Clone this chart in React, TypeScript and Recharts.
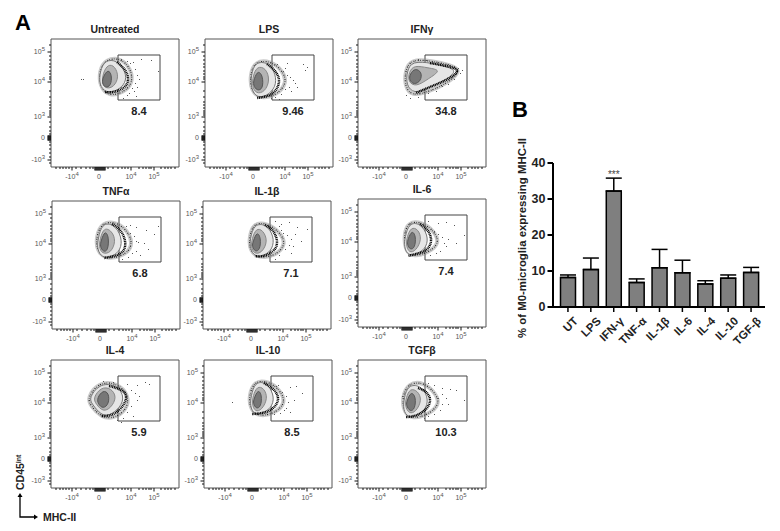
import {
  Bar,
  BarChart,
  ErrorBar,
  ReferenceArea,
  ReferenceDot,
  Scatter,
  ScatterChart,
  XAxis,
  YAxis,
} from 'recharts'

// Panel B: percent of M0-microglia expressing MHC-II
const treatments = ['UT', 'LPS', 'IFN-γ', 'TNF-α', 'IL-1β', 'IL-6', 'IL-4', 'IL-10', 'TGF-β']
const meanPercent = [8.2, 10.4, 32.2, 6.8, 10.9, 9.5, 6.4, 8.0, 9.6]
const upperError = [0.7, 3.2, 3.6, 1.0, 5.1, 3.5, 0.9, 0.9, 1.4]
const percentTicks = [0, 10, 20, 30, 40]

// Panel A: titles and gate percentages
const panelTitles = ['Untreated', 'LPS', 'IFNγ', 'TNFα', 'IL-1β', 'IL-6', 'IL-4', 'IL-10', 'TGFβ']
const gatePercents = ['8.4', '9.46', '34.8', '6.8', '7.1', '7.4', '5.9', '8.5', '10.3']

// Biexponential axes, in display channels (0-128)
const xMajor = [21, 48, 80, 103]
const xBases = ['-10', '0', '10', '10']
const xExps = ['4', '', '4', '5']
const xMinor = [5, 9, 12, 15, 18, 25, 30, 35, 39, 42, 44, 45, 46, 47, 49, 50, 51, 52, 53, 54, 57, 62, 67, 71, 74, 77, 88, 92, 95, 98, 100, 110, 114, 117, 120, 124]
const yMajor = [115, 85, 50, 29, 7]
const yBases = ['10', '10', '10', '0', '-10']
const yExps = ['5', '4', '3', '', '3']
const yMinor = [122, 111, 107, 103, 100, 96, 93, 90, 88, 76, 70, 65, 62, 59, 56, 54, 52, 45, 40, 36, 33, 31, 30, 28, 27, 25, 22, 18, 14, 10, 4]

type Pt = [number, number]

const halo1: Pt[] = [[48, 96], [55, 108], [70, 109], [80, 98], [82, 84], [72, 74], [58, 71], [49, 80]]
const arc1: Pt[] = [[66, 105], [74, 97], [77, 87], [72, 79], [62, 75], [54, 75]]
const body1: Pt[] = [[49, 96], [54, 107], [66, 107], [75, 95], [75, 84], [66, 76], [55, 74], [48, 82]]
const mid1: Pt[] = [[52, 94], [57, 103], [64, 101], [68, 90], [63, 80], [55, 78], [51, 84]]
const core1: Pt[] = [[52, 90], [57, 98], [61, 92], [60, 81], [54, 79], [51, 84]]
const dots1: Pt[] = [[30, 88], [32, 88], [70, 108], [76, 106], [82, 105], [90, 108], [100, 107], [107, 96], [84, 98], [86, 92], [88, 88], [84, 84], [81, 79], [83, 76], [78, 74], [76, 72], [72, 69], [86, 80], [79, 104], [85, 71]]

const halo2: Pt[] = [[45, 92], [50, 106], [66, 106], [78, 96], [82, 84], [72, 72], [56, 68], [46, 76]]
const arc2: Pt[] = [[62, 103], [70, 96], [74, 86], [70, 76], [62, 71], [52, 69]]
const body2: Pt[] = [[46, 92], [50, 105], [63, 105], [71, 93], [71, 80], [62, 71], [52, 69], [46, 78]]
const mid2: Pt[] = [[48, 91], [52, 101], [61, 99], [65, 87], [60, 75], [51, 73], [47, 81]]
const core2: Pt[] = [[49, 88], [53, 97], [58, 91], [58, 78], [52, 76], [48, 82]]
const dots2: Pt[] = [[72, 103], [82, 104], [98, 103], [102, 100], [100, 97], [78, 96], [82, 92], [85, 90], [88, 87], [90, 84], [84, 80], [80, 78], [86, 76], [76, 73], [70, 70], [74, 68], [66, 69], [92, 80], [80, 99]]

const halo3: Pt[] = [[47, 96], [53, 108], [74, 106], [92, 102], [104, 97], [90, 84], [70, 75], [54, 71], [47, 80]]
const arc3: Pt[] = [[72, 104], [88, 101], [99, 96], [88, 87], [72, 80], [58, 74]]
const body3: Pt[] = [[49, 96], [54, 106], [74, 104], [90, 100], [99, 96], [88, 87], [70, 79], [56, 73], [48, 82]]
const mid3: Pt[] = [[51, 95], [56, 102], [70, 99], [84, 97], [70, 88], [58, 80], [50, 85]]
const core3: Pt[] = [[52, 93], [57, 99], [64, 95], [63, 86], [56, 82], [51, 87]]
const dots3: Pt[] = [[60, 108], [68, 107], [80, 105], [90, 103], [96, 101], [100, 99], [104, 97], [102, 94], [96, 88], [90, 83], [84, 81], [78, 76], [70, 74], [60, 70], [52, 69], [48, 72]]

const halo4: Pt[] = [[44, 92], [50, 107], [66, 107], [79, 94], [80, 80], [68, 72], [54, 70], [45, 78]]
const arc4: Pt[] = [[60, 105], [68, 99], [73, 88], [71, 78], [62, 73], [52, 71]]
const body4: Pt[] = [[46, 90], [50, 106], [62, 105], [70, 92], [69, 79], [60, 72], [50, 71], [45, 80]]
const mid4: Pt[] = [[48, 90], [52, 102], [60, 98], [64, 88], [59, 76], [50, 75], [47, 82]]
const core4: Pt[] = [[49, 88], [53, 99], [57, 92], [56, 78], [51, 77], [48, 83]]
const dots4: Pt[] = [[72, 100], [78, 104], [84, 102], [94, 99], [106, 103], [102, 95], [78, 96], [82, 93], [86, 87], [92, 86], [96, 80], [84, 78], [80, 76], [76, 72], [70, 70], [88, 74], [74, 103], [84, 88]]

const halo5: Pt[] = [[46, 90], [50, 106], [64, 106], [78, 96], [83, 84], [72, 73], [56, 71], [47, 78]]
const arc5: Pt[] = [[62, 104], [70, 98], [74, 87], [70, 78], [60, 73], [52, 73]]
const body5: Pt[] = [[47, 90], [51, 105], [63, 105], [71, 93], [70, 80], [61, 73], [52, 72], [47, 80]]
const mid5: Pt[] = [[49, 90], [53, 101], [60, 99], [65, 88], [59, 76], [51, 75], [48, 82]]
const core5: Pt[] = [[50, 87], [54, 98], [58, 91], [57, 79], [52, 77], [49, 83]]
const dots5: Pt[] = [[72, 108], [78, 105], [86, 107], [94, 102], [104, 100], [76, 103], [80, 96], [84, 94], [88, 90], [90, 83], [86, 84], [82, 80], [88, 76], [76, 74], [72, 70], [92, 95], [98, 88], [78, 99]]

const halo6: Pt[] = [[46, 92], [50, 105], [64, 105], [76, 96], [82, 84], [70, 74], [54, 70], [47, 78]]
const arc6: Pt[] = [[62, 103], [70, 96], [73, 86], [68, 77], [58, 73], [50, 71]]
const body6: Pt[] = [[47, 90], [51, 104], [62, 104], [70, 92], [69, 80], [60, 73], [50, 71], [46, 80]]
const mid6: Pt[] = [[49, 90], [53, 100], [60, 98], [64, 88], [58, 76], [51, 74], [48, 82]]
const core6: Pt[] = [[50, 88], [54, 97], [58, 91], [57, 79], [52, 77], [49, 83]]
const dots6: Pt[] = [[70, 106], [80, 104], [88, 105], [96, 102], [106, 92], [76, 96], [80, 93], [84, 90], [86, 84], [88, 81], [82, 76], [78, 74], [72, 72], [90, 88], [98, 84]]

const halo7: Pt[] = [[36, 90], [48, 106], [66, 105], [78, 93], [76, 78], [62, 69], [50, 71], [40, 82]]
const arc7: Pt[] = [[58, 102], [68, 99], [75, 92], [70, 80], [60, 73], [50, 72]]
const body7: Pt[] = [[38, 90], [48, 104], [64, 104], [74, 92], [69, 80], [58, 72], [50, 73], [41, 84]]
const mid7: Pt[] = [[42, 90], [50, 101], [60, 100], [66, 91], [60, 80], [52, 76], [45, 84]]
const core7: Pt[] = [[46, 90], [52, 98], [58, 95], [58, 84], [52, 79], [47, 84]]
const dots7: Pt[] = [[76, 104], [86, 103], [94, 106], [98, 104], [80, 98], [84, 95], [86, 88], [80, 82], [76, 76], [72, 70], [66, 68], [82, 72], [70, 66], [88, 92], [62, 106], [52, 107]]

const halo8: Pt[] = [[45, 92], [50, 107], [64, 107], [76, 98], [82, 86], [72, 75], [54, 71], [46, 80]]
const arc8: Pt[] = [[60, 105], [69, 99], [74, 89], [68, 79], [58, 75], [48, 74]]
const body8: Pt[] = [[47, 92], [51, 106], [62, 106], [70, 94], [69, 82], [60, 75], [50, 73], [46, 82]]
const mid8: Pt[] = [[49, 92], [53, 102], [60, 100], [64, 90], [58, 78], [51, 76], [48, 84]]
const core8: Pt[] = [[50, 89], [54, 99], [58, 93], [57, 81], [52, 79], [49, 85]]
const dots8: Pt[] = [[72, 102], [86, 101], [92, 102], [98, 95], [28, 86], [78, 96], [82, 92], [84, 86], [80, 78], [76, 75], [70, 74], [82, 80], [74, 103], [90, 88], [86, 76]]

const halo9: Pt[] = [[44, 90], [50, 105], [66, 106], [78, 94], [82, 84], [70, 73], [54, 69], [46, 76]]
const arc9: Pt[] = [[60, 100], [68, 96], [72, 87], [66, 77], [56, 72], [48, 71]]
const body9: Pt[] = [[46, 90], [50, 103], [62, 103], [70, 92], [69, 80], [60, 73], [50, 70], [45, 78]]
const mid9: Pt[] = [[48, 90], [52, 100], [60, 97], [64, 88], [58, 76], [51, 74], [47, 82]]
const core9: Pt[] = [[49, 87], [53, 97], [58, 91], [57, 79], [52, 76], [48, 83]]
const dots9: Pt[] = [[44, 92], [70, 105], [76, 103], [84, 100], [92, 99], [98, 98], [84, 94], [88, 90], [80, 90], [84, 84], [82, 78], [76, 74], [70, 72], [66, 70], [106, 88], [90, 84]]

const halos = [halo1, halo2, halo3, halo4, halo5, halo6, halo7, halo8, halo9]
const arcs = [arc1, arc2, arc3, arc4, arc5, arc6, arc7, arc8, arc9]
const bodies = [body1, body2, body3, body4, body5, body6, body7, body8, body9]
const mids = [mid1, mid2, mid3, mid4, mid5, mid6, mid7, mid8, mid9]
const cores = [core1, core2, core3, core4, core5, core6, core7, core8, core9]
const strays = [dots1, dots2, dots3, dots4, dots5, dots6, dots7, dots8, dots9]

const panelLeft = [51, 205, 358, 52, 203, 358, 51, 204, 358]
const panelTop = [39, 39, 39, 201, 201, 199, 360, 360, 360]

const SANS = '"Liberation Sans", Arial, sans-serif'
const toPoints = (pts: Pt[]) => pts.map(([x, y]) => ({ x, y }))

function XTick({ x, y, payload }: any) {
  const i = xMajor.indexOf(payload.value)
  const rug = payload.value >= 44 && payload.value <= 54
  return (
    <g>
      <line x1={x} y1={y} x2={x} y2={y + (i >= 0 || rug ? 3.5 : 2)} stroke="#111" strokeWidth={rug ? 1.3 : 1} />
      {i >= 0 && (
        <text x={x} y={y + 12} textAnchor="middle" fontSize={7} fill="#555" fontFamily={SANS}>
          {xBases[i]}
          <tspan dy={-3} fontSize={6}>{xExps[i]}</tspan>
        </text>
      )}
    </g>
  )
}

function YTick({ x, y, payload }: any) {
  const i = yMajor.indexOf(payload.value)
  const rug = payload.value >= 27 && payload.value <= 31
  return (
    <g>
      <line x1={x - (i >= 0 || rug ? 3.5 : 2)} y1={y} x2={x} y2={y} stroke="#111" strokeWidth={rug ? 1.5 : 1} />
      {i >= 0 && (
        <text x={x - 6} y={y + 2} textAnchor="end" fontSize={7} fill="#555" fontFamily={SANS}>
          {yBases[i]}
          <tspan dy={-3} fontSize={6}>{yExps[i]}</tspan>
        </text>
      )}
    </g>
  )
}

const noPoint = () => <g />
const strayDot = (p: any) => <rect x={p.cx} y={p.cy} width={1} height={1} fill="#555" />

function FlowPanel({ index }: { index: number }) {
  return (
    <div style={{ position: 'absolute', left: panelLeft[index] - 36, top: panelTop[index] - 24 }}>
      <div
        style={{
          position: 'absolute',
          left: 36,
          width: 128,
          top: 8,
          textAlign: 'center',
          font: `bold 10.5px ${SANS}`,
          color: '#222',
        }}
      >
        {panelTitles[index]}
      </div>
      <ScatterChart width={170} height={176} margin={{ top: 24, right: 6, bottom: 0, left: 0 }}>
        <XAxis
          type="number"
          dataKey="x"
          domain={[0, 128]}
          ticks={[...xMajor, ...xMinor].sort((a, b) => a - b)}
          interval={0}
          height={24}
          axisLine={false}
          tickLine={false}
          tickSize={0}
          tickMargin={0}
          tick={XTick}
        />
        <YAxis
          type="number"
          dataKey="y"
          domain={[0, 128]}
          ticks={[...yMajor, ...yMinor].sort((a, b) => a - b)}
          interval={0}
          width={36}
          axisLine={false}
          tickLine={false}
          tickSize={0}
          tickMargin={0}
          tick={YTick}
        />
        <ReferenceArea x1={0} x2={128} y1={0} y2={128} fill="none" stroke="#555" strokeWidth={1} />
        {/* soft haze under the contour, then the grainy rim */}
        <Scatter
          data={toPoints(halos[index])}
          isAnimationActive={false}
          shape={noPoint}
          lineJointType="basisClosed"
          line={{ stroke: '#888', strokeOpacity: 0.45, strokeWidth: 4, fill: 'none' }}
        />
        <Scatter
          data={toPoints(halos[index])}
          isAnimationActive={false}
          shape={noPoint}
          lineJointType="basisClosed"
          line={{ stroke: '#222', strokeWidth: 1.2, strokeDasharray: '1 1.2 0.6 1.8', fill: 'none' }}
        />
        <Scatter data={toPoints(strays[index])} isAnimationActive={false} shape={strayDot} />
        <Scatter
          data={toPoints(bodies[index])}
          isAnimationActive={false}
          shape={noPoint}
          lineJointType="basisClosed"
          line={{ stroke: '#777', strokeWidth: 1, fill: '#e6e6e6' }}
        />
        <Scatter
          data={toPoints(arcs[index])}
          isAnimationActive={false}
          shape={noPoint}
          lineJointType="natural"
          line={{ stroke: '#000', strokeWidth: 2.5, strokeDasharray: '1 0.7', fill: 'none' }}
        />
        <Scatter
          data={toPoints(mids[index])}
          isAnimationActive={false}
          shape={noPoint}
          lineJointType="basisClosed"
          line={{ stroke: '#888', strokeWidth: 1, fill: '#b4b4b4' }}
        />
        <Scatter
          data={toPoints(cores[index])}
          isAnimationActive={false}
          shape={noPoint}
          lineJointType="basisClosed"
          line={{ stroke: '#555', strokeWidth: 1, fill: '#777' }}
        />
        <ReferenceArea
          x1={67}
          x2={109}
          y1={67}
          y2={112}
          fill="none"
          stroke="#444"
          strokeWidth={1}
          label={{
            value: gatePercents[index],
            position: 'bottom',
            offset: 7,
            fontSize: 11,
            fontWeight: 700,
            fontFamily: SANS,
            fill: '#222',
          }}
        />
      </ScatterChart>
    </div>
  )
}

function PercentBars() {
  const rows = treatments.map((name, i) => ({
    name,
    percent: meanPercent[i],
    err: [0, upperError[i]],
  }))
  return (
    <div style={{ position: 'absolute', left: 510, top: 130 }}>
      <BarChart
        width={265}
        height={235}
        data={rows}
        margin={{ top: 33, right: 10, bottom: 0, left: 0 }}
      >
        <XAxis
          dataKey="name"
          interval={0}
          height={58}
          padding={{ left: 3.5, right: 2.5 }}
          axisLine={{ stroke: '#000', strokeWidth: 2 }}
          tickLine={{ stroke: '#000', strokeWidth: 1.5 }}
          tickSize={5}
          angle={-45}
          textAnchor="end"
          tick={{ fontSize: 11.5, fontWeight: 700, fontFamily: SANS, fill: '#222', dx: 5, dy: 2 }}
        />
        <YAxis
          domain={[0, 40]}
          ticks={percentTicks}
          width={43}
          axisLine={{ stroke: '#000', strokeWidth: 2 }}
          tickLine={{ stroke: '#000', strokeWidth: 2 }}
          tickSize={5.5}
          tickMargin={2}
          tick={{ fontSize: 12.5, fontWeight: 700, fontFamily: SANS, fill: '#222' }}
          label={{
            value: '% of M0-microglia expressing MHC-II',
            angle: -90,
            position: 'insideLeft',
            offset: 12,
            dy: 3,
            fontSize: 11.4,
            fontWeight: 700,
            fontFamily: SANS,
            fill: '#222',
            style: { textAnchor: 'middle' },
          }}
        />
        <Bar dataKey="percent" barSize={15} fill="#7f7f7f" stroke="#000" strokeWidth={1.5} isAnimationActive={false}>
          <ErrorBar dataKey="err" width={8} stroke="#000" strokeWidth={1.5} isAnimationActive={false} />
        </Bar>
        <ReferenceDot
          x="IFN-γ"
          y={36.8}
          r={0}
          fill="none"
          stroke="none"
          label={{ value: '***', position: 'center', fontSize: 10, fill: '#444', fontFamily: SANS }}
        />
      </BarChart>
    </div>
  )
}

export default function App() {
  return (
    <div style={{ position: 'absolute', left: 0, top: 0, width: 780, height: 531, background: '#fff', overflow: 'hidden' }}>
      {panelTitles.map((_, i) => (
        <FlowPanel key={i} index={i} />
      ))}
      <PercentBars />
      <svg width={780} height={531} style={{ position: 'absolute', left: 0, top: 0, pointerEvents: 'none' }}>
        <text x={15} y={30} fontSize={22} fontWeight={700} fontFamily={SANS} fill="#000">A</text>
        <text x={512} y={117} fontSize={22} fontWeight={700} fontFamily={SANS} fill="#000">B</text>
        <path d="M20 496V517H34" fill="none" stroke="#000" strokeWidth={1.3} />
        <polygon points="20,493 17.5,497 22.5,497" fill="#000" />
        <polygon points="38,517 34,514.5 34,519.5" fill="#000" />
        <text x={43} y={521} fontSize={10.5} fontWeight={700} fontFamily={SANS} fill="#222">MHC-II</text>
        <text transform="translate(24 490) rotate(-90)" fontSize={10.5} fontWeight={700} fontFamily={SANS} fill="#222">
          CD45<tspan dy={-3} fontSize={7}>int</tspan>
        </text>
      </svg>
    </div>
  )
}
